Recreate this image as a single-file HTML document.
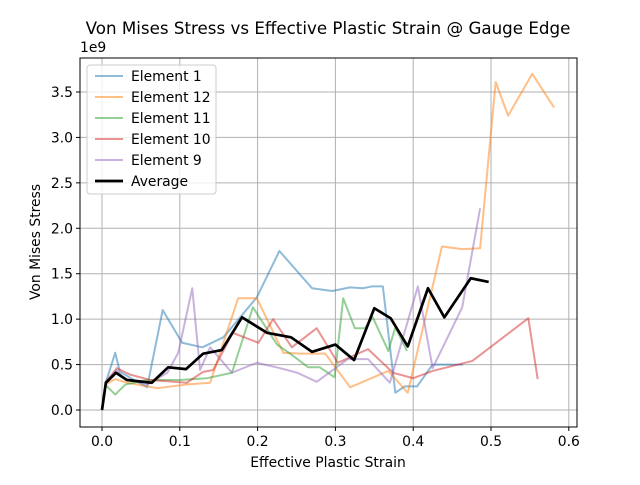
<!DOCTYPE html>
<html><head><meta charset="utf-8"><style>
body{margin:0;background:#fff;font-family:"Liberation Sans","DejaVu Sans",sans-serif}
svg text{font-family:"DejaVu Sans","Liberation Sans",sans-serif}
</style></head><body>
<svg id="c" width="640" height="480" viewBox="0 0 640 480" xmlns="http://www.w3.org/2000/svg"></svg>
<script>
const xTicks=[0.0,0.1,0.2,0.3,0.4,0.5,0.6];
const yTicks=[0.0,0.5,1.0,1.5,2.0,2.5,3.0,3.5];
const e1x=[.004,.017,.023,.058,.078,.103,.129,.156,.199,.228,.270,.296,.319,.335,.347,.361,.377,.389,.405,.425,.464];
const e1y=[.28,.63,.42,.25,1.10,.74,.69,.80,1.24,1.75,1.34,1.31,1.35,1.34,1.36,1.36,.19,.26,.26,.50,.50];
const e12x=[.004,.017,.032,.071,.108,.139,.175,.199,.233,.254,.287,.319,.368,.393,.437,.463,.486,.506,.522,.553,.581];
const e12y=[.28,.34,.30,.24,.28,.30,1.23,1.23,.63,.62,.62,.25,.43,.19,1.80,1.77,1.78,3.61,3.24,3.70,3.33];
const e11x=[.004,.017,.030,.058,.100,.135,.167,.194,.225,.242,.265,.280,.299,.310,.325,.338,.348,.368,.377,.392];
const e11y=[.28,.17,.28,.33,.33,.35,.41,1.13,.72,.62,.47,.47,.36,1.23,.90,.90,1.02,.65,.91,.65];
const e10x=[.004,.019,.036,.062,.109,.130,.143,.168,.201,.220,.244,.276,.303,.342,.374,.400,.425,.476,.548,.560];
const e10y=[.30,.46,.39,.33,.30,.42,.44,.85,.74,1.00,.69,.90,.52,.67,.41,.35,.43,.54,1.01,.34];
const e9x=[.004,.019,.027,.058,.084,.098,.116,.126,.139,.167,.199,.229,.251,.276,.316,.342,.370,.406,.425,.463,.486];
const e9y=[.30,.44,.35,.28,.41,.63,1.34,.44,.69,.41,.52,.46,.41,.31,.56,.56,.30,1.36,.46,1.13,2.22];
const avgx=[0,.005,.018,.032,.064,.085,.108,.130,.154,.180,.212,.243,.270,.300,.324,.350,.371,.393,.419,.440,.474,.497];
const avgy=[0,.30,.41,.33,.30,.47,.45,.62,.66,1.02,.85,.80,.64,.72,.55,1.12,1.01,.70,1.34,1.02,1.45,1.41];
const series=[
 {n:"Element 1",x:e1x,y:e1y,c:"#1f77b4",k:"element-1"},
 {n:"Element 12",x:e12x,y:e12y,c:"#ff7f0e",k:"element-12"},
 {n:"Element 11",x:e11x,y:e11y,c:"#2ca02c",k:"element-11"},
 {n:"Element 10",x:e10x,y:e10y,c:"#d62728",k:"element-10"},
 {n:"Element 9",x:e9x,y:e9y,c:"#9467bd",k:"element-9"},
 {n:"Average",x:avgx,y:avgy,c:"#000",k:"average"}];
const L=80,R=577,T=58,B=427;
const X=v=>102+v*778, Y=v=>410-v*90.86;
const s=document.getElementById('c'),NS="http://www.w3.org/2000/svg";
function mk(t,a,p){const e=document.createElementNS(NS,t);for(const k in a)e.setAttribute(k,a[k]);(p||s).appendChild(e);return e;}
function tx(str,x,y,sz,anch,extra){const e=mk('text',Object.assign({x:x,y:y,'font-size':sz,'text-anchor':anch||'middle',fill:'#000'},extra||{}));e.textContent=str;return e;}
let t=tx("Von Mises Stress vs Effective Plastic Strain @ Gauge Edge",328,34,16.7);


xTicks.forEach(v=>{const x=X(v);
 let g=mk('line',{x1:x,x2:x,y1:T,y2:B,stroke:'#b0b0b0','stroke-width':1});
 
 
 mk('line',{x1:x,x2:x,y1:B,y2:B+4,stroke:'#000'});
 let l=tx(v.toFixed(1),x,B+19,13.9);
 
 });
yTicks.forEach(v=>{const y=Y(v);
 let g=mk('line',{x1:L,x2:R,y1:y,y2:y,stroke:'#b0b0b0','stroke-width':1});
 
 
 mk('line',{x1:L-4,x2:L,y1:y,y2:y,stroke:'#000'});
 let l=tx(v.toFixed(1),L-7,y+5,13.9,'end');
 
 });
series.forEach(sr=>{
 const p=mk('polyline',{points:sr.x.map((v,i)=>X(v)+','+Y(sr.y[i])).join(' '),fill:'none',stroke:sr.c,'stroke-width':sr.k==='average'?2.7:2,'stroke-opacity':sr.k==='average'?1:0.5,'stroke-linejoin':'round'});
 
 });
let fr=mk('rect',{x:L,y:T,width:R-L,height:B-T,fill:'none',stroke:'#000','stroke-width':1});


let ex=tx("1e9",80,52,13.9,'start');


let xl=tx("Effective Plastic Strain",328,467,13.9);


let yl=tx("Von Mises Stress",40,242,13.9,'middle',{transform:'rotate(-90 40 242)'});


const lg=mk('g',{});


mk('rect',{x:87,y:65,width:129,height:129,rx:3,fill:'#fff','fill-opacity':0.8,stroke:'#ccc'},lg);
series.forEach((sr,i)=>{const y=76+i*21;
 const e=mk('g',{},lg);
 
 
 mk('line',{x1:95,x2:123,y1:y,y2:y,stroke:sr.c,'stroke-width':sr.k==='average'?2.7:2,'stroke-opacity':sr.k==='average'?1:0.5},e);
 const q=tx(sr.n,131,y+5,13.9,'start');e.appendChild(q);});
</script>
</body></html>
